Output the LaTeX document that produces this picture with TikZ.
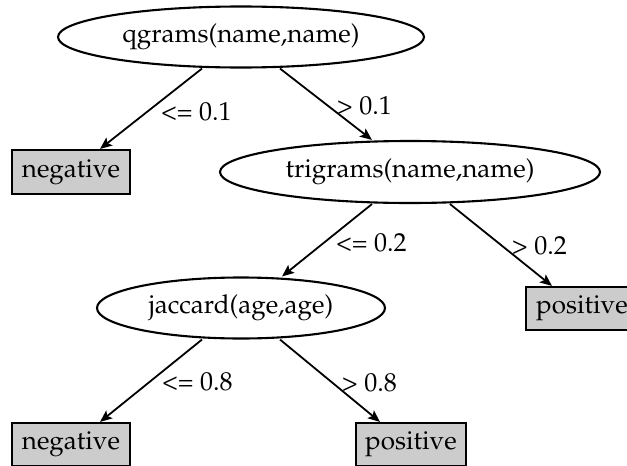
\documentclass[tikz,border=0pt]{standalone}
\usepackage[T1]{fontenc}
\renewcommand{\rmdefault}{ppl}
\usetikzlibrary{arrows.meta,shapes.geometric,calc}
\definecolor{leafgray}{RGB}{204,204,204}
\begin{document}
\begin{tikzpicture}[x=1pt,y=-1pt,
  every node/.style={font=\fontsize{26}{30}\selectfont, inner sep=0pt},
  test/.style={ellipse, draw=black, line width=2.1pt},
  leaf/.style={rectangle, draw=black, line width=2.1pt, fill=leafgray},
  edge/.style={line width=1.8pt, -{Stealth[length=12pt,width=10pt,inset=2.5pt]}},
  cond/.style={anchor=west}]
\useasboundingbox (0,0) rectangle (627,466);

% split nodes
\node[test, minimum width=366pt, minimum height=61pt] (q) at (241,37) {qgrams(name,name)};
\node[test, minimum width=380pt, minimum height=62pt] (t) at (410,172) {trigrams(name,name)};
\node[test, minimum width=288pt, minimum height=61pt] (j) at (241,308) {jaccard(age,age)};

% leaves
\node[leaf, minimum width=118pt, minimum height=44pt] (neg1) at (71,172) {negative};
\node[leaf, minimum width=112pt, minimum height=43pt] (pos1) at (582,308.5) {positive};
\node[leaf, minimum width=118pt, minimum height=43pt] (neg2) at (71,444.5) {negative};
\node[leaf, minimum width=110pt, minimum height=43pt] (pos2) at (411,444.5) {positive};

% branches
\draw[edge] ($(q.south)+(-39,0)$) -- ($(neg1.north)+(29,0)$);
\draw[edge] ($(q.south)+(39,0)$) -- ($(t.north)+(-38,0)$);
\draw[edge] ($(t.south)+(-38,0)$) -- ($(j.north)+(41,0)$);
\draw[edge] ($(t.south)+(40,0)$) -- ($(pos1.north)+(-30,0)$);
\draw[edge] ($(j.south)+(-39,0)$) -- ($(neg2.north)+(29,0)$);
\draw[edge] ($(j.south)+(39,0)$) -- ($(pos2.north)+(-31,0)$);

% branch conditions
\node[cond] (c1) at (161,112) {<= 0.1};
\node[cond] (c2) at (337,106) {> 0.1};
\node[cond] (c3) at (336,243) {<= 0.2};
\node[cond] (c4) at (512,246) {> 0.2};
\node[cond] (c5) at (162,382) {<= 0.8};
\node[cond] (c6) at (342,383) {> 0.8};
\end{tikzpicture}
\end{document}
